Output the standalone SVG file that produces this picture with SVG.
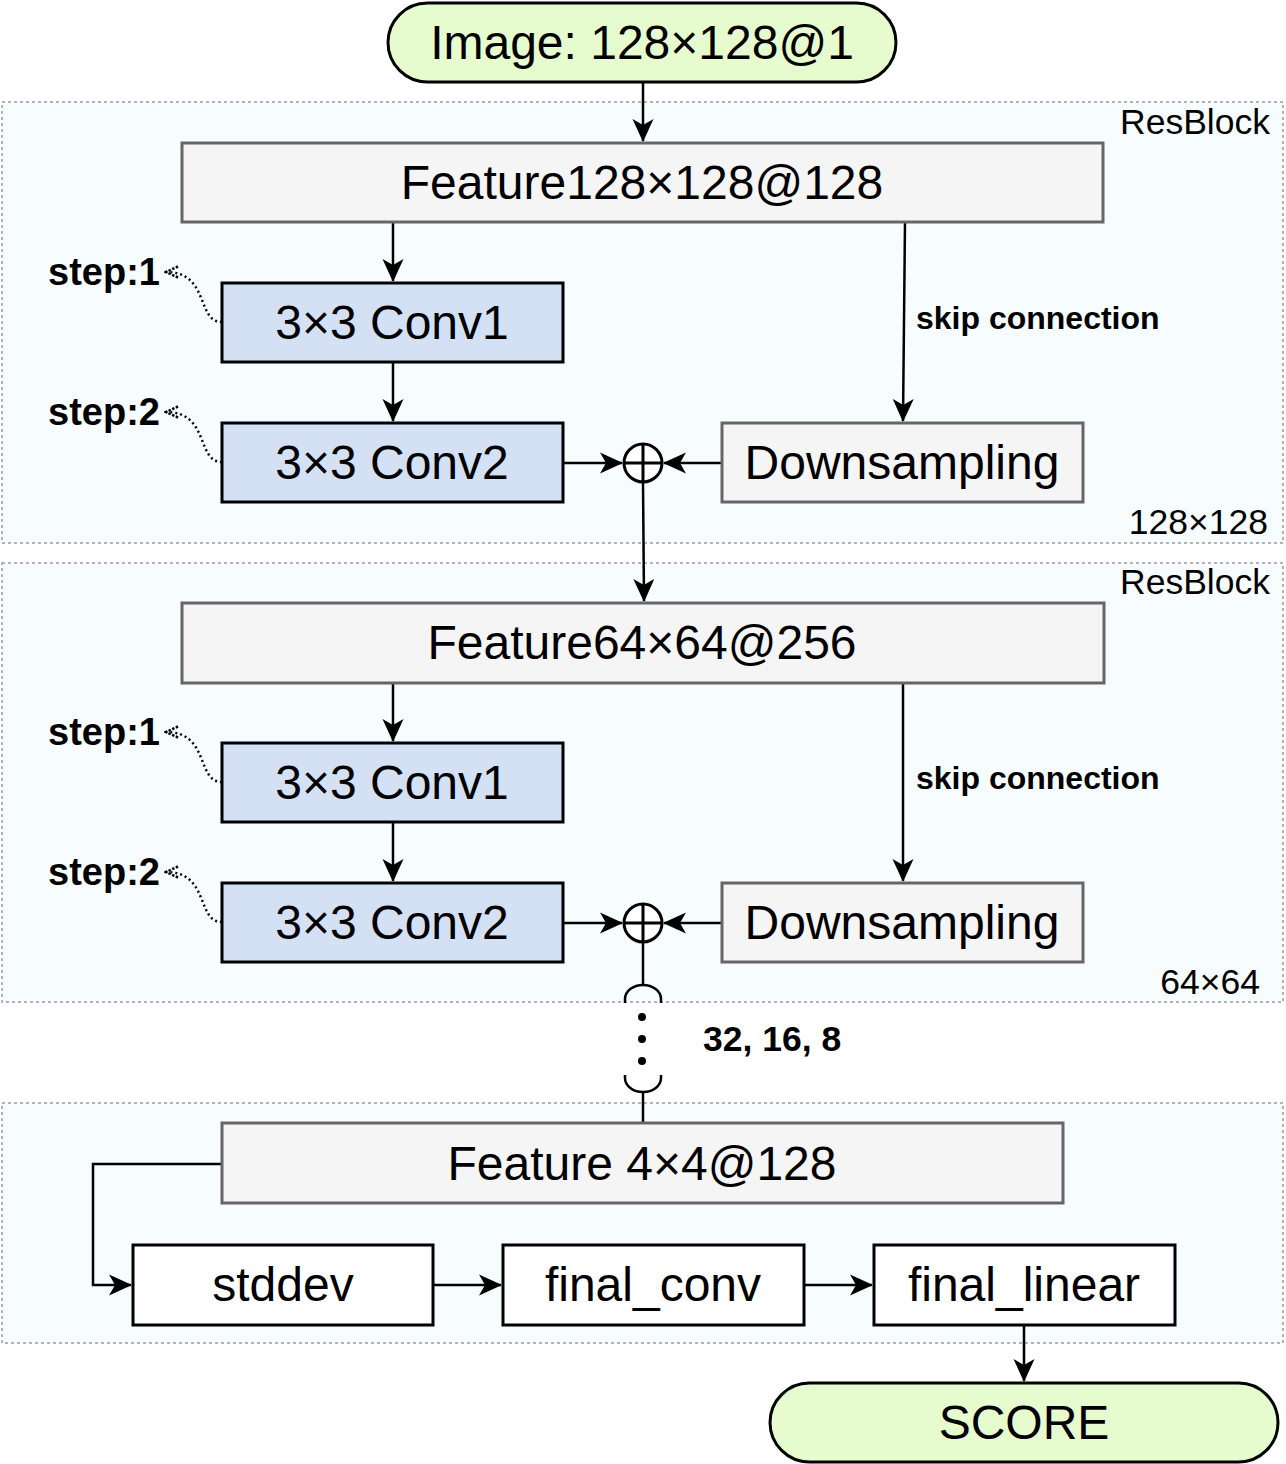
<svg xmlns="http://www.w3.org/2000/svg" width="1286" height="1464" viewBox="0 0 1286 1464">
<style>
.cont{fill:#f7fdfe;stroke:#b3b3b3;stroke-width:2;stroke-dasharray:3 3}
.term{fill:#e6fccf;stroke:#000;stroke-width:3}
.feat{fill:#f5f5f5;stroke:#666;stroke-width:3}
.conv{fill:#d4e1f5;stroke:#000;stroke-width:3}
.plain{fill:#fff;stroke:#000;stroke-width:3}
.big{font-family:"Liberation Sans",Arial,sans-serif;font-size:48px;text-anchor:middle;fill:#000}
.lbl{font-family:"Liberation Sans",Arial,sans-serif;font-size:35.5px;fill:#000}
.bold{font-family:"Liberation Sans",Arial,sans-serif;font-weight:bold;fill:#000}
.edge{fill:none;stroke:#000;stroke-width:2.5}
.dot{fill:none;stroke:#000;stroke-width:2.5;stroke-dasharray:2 3}
</style>
<defs>
<marker id="arrL" markerWidth="24" markerHeight="24" viewBox="0 0 24 24" refX="22" refY="12" orient="auto" markerUnits="userSpaceOnUse">
<path d="M0,1.5 L23,12 L0,22.5 L6,12 z" fill="#000"/>
</marker>
<marker id="open" markerWidth="16" markerHeight="14" viewBox="0 0 16 14" refX="14" refY="7" orient="auto" markerUnits="userSpaceOnUse">
<path d="M2,1.5 L14,7 L2,12.5" fill="none" stroke="#000" stroke-width="2.5" stroke-dasharray="2.5 1.5"/>
</marker>
</defs>

<g id="containers">
<rect class="cont" x="2" y="102" width="1281" height="441"/>
<rect class="cont" x="2" y="563" width="1281" height="439"/>
<rect class="cont" x="2" y="1103" width="1281" height="240"/>
<text class="lbl" x="1270" y="134" text-anchor="end">ResBlock</text>
<text class="lbl" x="1268" y="534" text-anchor="end">128×128</text>
<text class="lbl" x="1270" y="594" text-anchor="end">ResBlock</text>
<text class="lbl" x="1260" y="994" text-anchor="end">64×64</text>
</g>

<g id="edges">
<path class="edge" d="M643,82 V141" marker-end="url(#arrL)"/>
<path class="edge" d="M393,222 V281" marker-end="url(#arrL)"/>
<path class="edge" d="M393,362 V421" marker-end="url(#arrL)"/>
<path class="edge" d="M905,222 L903,421" marker-end="url(#arrL)"/>
<path class="edge" d="M563,463 H622" marker-end="url(#arrL)"/>
<path class="edge" d="M722,463 H664" marker-end="url(#arrL)"/>
<path class="edge" d="M643,482 L644,601" marker-end="url(#arrL)"/>
<path class="dot" d="M222,322 C196,322 210,272 166,272" marker-end="url(#open)"/>
<path class="dot" d="M222,462 C196,462 210,412 166,412" marker-end="url(#open)"/>

<path class="edge" d="M393,683 V741" marker-end="url(#arrL)"/>
<path class="edge" d="M393,822 V881" marker-end="url(#arrL)"/>
<path class="edge" d="M903,683 V881" marker-end="url(#arrL)"/>
<path class="edge" d="M563,923 H622" marker-end="url(#arrL)"/>
<path class="edge" d="M722,923 H664" marker-end="url(#arrL)"/>
<path class="dot" d="M222,782 C196,782 210,732 166,732" marker-end="url(#open)"/>
<path class="dot" d="M222,922 C196,922 210,872 166,872" marker-end="url(#open)"/>

<path class="edge" d="M643,942 V985"/>
<path class="edge" d="M625,1003 V999 A18,14 0 0 1 661,999 V1003"/>
<circle cx="642" cy="1017" r="4" fill="#000"/>
<circle cx="642" cy="1039" r="4" fill="#000"/>
<circle cx="642" cy="1061" r="4" fill="#000"/>
<path class="edge" d="M625,1075 V1078 A18,14 0 0 0 661,1078 V1075"/>
<path class="edge" d="M643,1092 V1123"/>

<path class="edge" d="M222,1164 H93 V1285 H131" marker-end="url(#arrL)"/>
<path class="edge" d="M433,1285 H501" marker-end="url(#arrL)"/>
<path class="edge" d="M804,1285 H872" marker-end="url(#arrL)"/>
<path class="edge" d="M1024,1325 V1381" marker-end="url(#arrL)"/>
</g>

<g id="image">
<rect class="term" x="388" y="3" width="508" height="79" rx="39.5"/>
<text class="big" x="642" y="59">Image: 128×128@1</text>
</g>

<g id="feature1">
<rect class="feat" x="182" y="143" width="921" height="79"/>
<text class="big" x="642" y="199">Feature128×128@128</text>
</g>
<g id="conv1a">
<rect class="conv" x="222" y="283" width="341" height="79"/>
<text class="big" x="392" y="339">3×3 Conv1</text>
</g>
<g id="conv2a">
<rect class="conv" x="222" y="423" width="341" height="79"/>
<text class="big" x="392" y="479">3×3 Conv2</text>
</g>
<g id="down1">
<rect class="feat" x="722" y="423" width="361" height="79"/>
<text class="big" x="902" y="479">Downsampling</text>
</g>
<g id="plus1">
<circle cx="643" cy="463" r="19" fill="#fff" stroke="#000" stroke-width="3"/>
<path d="M624,463 H662 M643,444 V482" stroke="#000" stroke-width="3"/>
</g>
<g id="labels1">
<text class="bold" x="48" y="285" font-size="38">step:1</text>
<text class="bold" x="48" y="425" font-size="38">step:2</text>
<text class="bold" x="916" y="329" font-size="32">skip connection</text>
</g>

<g id="feature2">
<rect class="feat" x="182" y="603" width="922" height="80"/>
<text class="big" x="642" y="659">Feature64×64@256</text>
</g>
<g id="conv1b">
<rect class="conv" x="222" y="743" width="341" height="79"/>
<text class="big" x="392" y="799">3×3 Conv1</text>
</g>
<g id="conv2b">
<rect class="conv" x="222" y="883" width="341" height="79"/>
<text class="big" x="392" y="939">3×3 Conv2</text>
</g>
<g id="down2">
<rect class="feat" x="722" y="883" width="361" height="79"/>
<text class="big" x="902" y="939">Downsampling</text>
</g>
<g id="plus2">
<circle cx="643" cy="923" r="19" fill="#fff" stroke="#000" stroke-width="3"/>
<path d="M624,923 H662 M643,904 V942" stroke="#000" stroke-width="3"/>
</g>
<g id="labels2">
<text class="bold" x="48" y="745" font-size="38">step:1</text>
<text class="bold" x="48" y="885" font-size="38">step:2</text>
<text class="bold" x="916" y="789" font-size="32">skip connection</text>
<text class="bold" x="703" y="1051" font-size="35.5">32, 16, 8</text>
</g>

<g id="feature3">
<rect class="feat" x="222" y="1123" width="841" height="80"/>
<text class="big" x="642" y="1180">Feature 4×4@128</text>
</g>
<g id="stddev">
<rect class="plain" x="133" y="1245" width="300" height="80"/>
<text class="big" x="283" y="1301">stddev</text>
</g>
<g id="final_conv">
<rect class="plain" x="503" y="1245" width="301" height="80"/>
<text class="big" x="653" y="1301">final_conv</text>
</g>
<g id="final_linear">
<rect class="plain" x="874" y="1245" width="301" height="80"/>
<text class="big" x="1024" y="1301">final_linear</text>
</g>
<g id="score">
<rect class="term" x="770" y="1383" width="508" height="79" rx="39.5"/>
<text class="big" x="1024" y="1439">SCORE</text>
</g>
</svg>
